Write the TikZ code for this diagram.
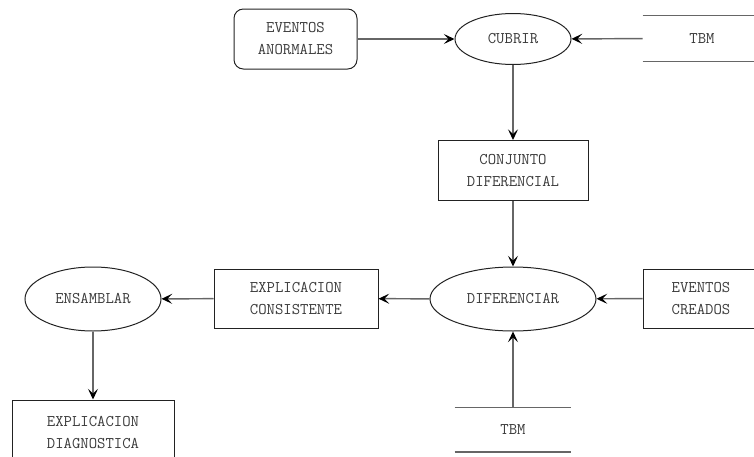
\documentclass[tikz,border=0pt]{standalone}
\usetikzlibrary{shapes.geometric,arrows.meta}
\definecolor{txt}{HTML}{3A3A3A}
\definecolor{edge}{HTML}{666666}
\definecolor{outl}{HTML}{222222}
\begin{document}
\begin{tikzpicture}[x=0.75pt,y=-0.75pt,
  lbl/.style={font=\ttfamily\fontsize{12.2}{16.5}\selectfont,text=txt,align=center,inner sep=0pt},
  procbox/.style={lbl,draw=outl,line width=0.75pt,rectangle},
  rbox/.style={procbox,rounded corners=7pt},
  proc/.style={lbl,draw=outl,line width=0.75pt,ellipse},
  store/.style={lbl},
  flow/.style={draw=edge,line width=1.1pt,-{Stealth[length=8pt,width=7.5pt,inset=3.5pt,color=black]}},
  storeline/.style={draw=edge,line width=1.1pt}]
\useasboundingbox (0,0) rectangle (754,457);
\begin{scope}
\clip (0,0) rectangle (754,457);
\node[rbox,minimum width=92.25pt,minimum height=45pt] (ea) at (295.5,39) {EVENTOS\\ANORMALES};
\node[proc,minimum width=87pt,minimum height=38.25pt] (cubrir) at (513,39) {CUBRIR};
\node[store,minimum width=88.5pt,minimum height=33.75pt] (tbma) at (702,38.5) {TBM};
\node[procbox,minimum width=112.5pt,minimum height=45pt] (cd) at (513,170.5) {CONJUNTO\\DIFERENCIAL};
\node[proc,minimum width=124.5pt,minimum height=48pt] (dif) at (513,299) {DIFERENCIAR};
\node[procbox,minimum width=87pt,minimum height=44.25pt] (ec) at (701,298.5) {EVENTOS\\CREADOS};
\node[procbox,minimum width=123pt,minimum height=44.25pt] (exc) at (296,298.5) {EXPLICACION\\CONSISTENTE};
\node[proc,minimum width=102pt,minimum height=48pt] (ens) at (93,299) {ENSAMBLAR};
\node[procbox,minimum width=121.5pt,minimum height=48.75pt] (exd) at (93,432.5) {EXPLICACION\\DIAGNOSTICA};
\node[store,minimum width=87pt,minimum height=33pt] (tbmb) at (513,429.5) {TBM};
\draw[storeline] (tbma.north west) -- (tbma.north east);
\draw[storeline] (tbma.south west) -- (tbma.south east);
\draw[storeline] (tbmb.north west) -- (tbmb.north east);
\draw[storeline] (tbmb.south west) -- (tbmb.south east);
\draw[flow] (ea) -- (cubrir);
\draw[flow] (tbma) -- (cubrir);
\draw[flow] (cubrir) -- (cd);
\draw[flow] (cd) -- (dif);
\draw[flow] (ec) -- (dif);
\draw[flow] (tbmb.north) -- (dif);
\draw[flow] (dif) -- (exc);
\draw[flow] (exc) -- (ens);
\draw[flow] (ens) -- (exd);
\end{scope}
\end{tikzpicture}
\end{document}
